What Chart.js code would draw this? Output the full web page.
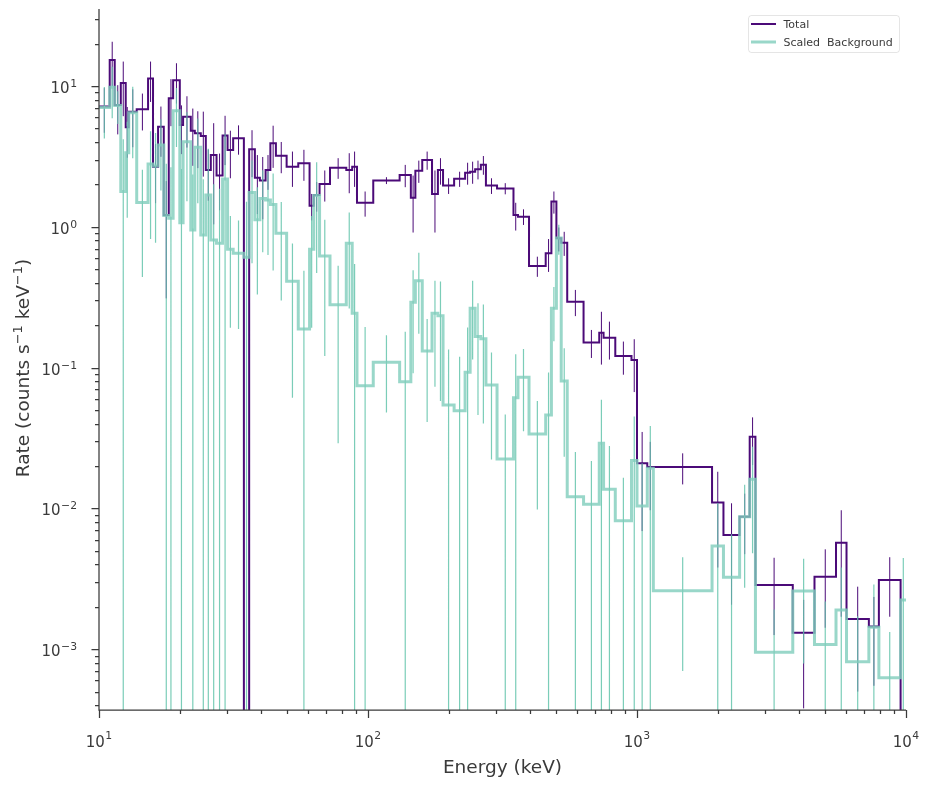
<!DOCTYPE html>
<html>
<head>
<meta charset="utf-8">
<title>Spectrum</title>
<script src="https://cdn.jsdelivr.net/npm/chart.js@4"></script>
<style>
  html, body { margin: 0; padding: 0; background: #fff; }
  #wrap { width: 930px; height: 786px; }
</style>
</head>
<body>
<div id="wrap"><canvas id="spec" width="930" height="786"></canvas></div>
<script>
// bin edges in keV (84 edges -> 83 bins)
const binEdges = [10, 10.96, 11.44, 12.05, 12.57, 12.90, 13.81, 15.22, 15.88, 16.58,
  17.41, 18.17, 18.86, 19.97, 20.54, 21.94, 22.71, 23.90, 24.95, 26.04,
  27.35, 28.80, 30.06, 31.53, 34.56, 36.16, 37.97, 39.63, 41.62, 43.36,
  45.46, 49.83, 55.05, 60.64, 62.86, 66.06, 72.23, 83.04, 87.35, 91.00,
  104.6, 131.1, 144.3, 150.0, 159.1, 173.0, 181.9, 190.1, 209.0, 229.6,
  239.7, 250.2, 262.7, 274.4, 301.8, 347.4, 361.0, 396.8, 457.7, 480.6,
  501.6, 522.7, 550.3, 632.9, 723.9, 751.1, 830.4, 953.9, 1000, 1092,
  1150, 1901, 2096, 2407, 2624, 2756, 3794, 4569, 5493, 6010,
  7277, 7928, 9548, 10000];

// total rate, counts/s/keV (0 = empty / negative bin)
const totalRate = [7.15, 15.3, 7.33, 10.5, 5.09, 6.57, 6.83, 11.3, 2.67, 5.14,
  1.21, 8.18, 11.0, 5.28, 6.05, 4.81, 4.61, 4.42, 2.53, 3.24,
  2.31, 4.44, 3.51, 4.25, 0, 3.55, 2.23, 2.13, 2.53, 3.92,
  3.20, 2.67, 2.82, 1.41, 1.68, 2.01, 2.63, 2.53, 2.67, 1.48,
  2.13, 2.33, 1.61, 2.50, 2.98, 1.71, 2.53, 1.96, 2.19, 2.42,
  2.46, 2.56, 2.76, 1.96, 1.87, 1.21, 1.18, 0.527, 0.648, 1.51,
  0.828, 0.771, 0.294, 0.151, 0.177, 0.163, 0.121, 0.113, 0.0209, 0.0197,
  0.0197, 0.0110, 0.00647, 0.00873, 0.0323, 0.00286, 0.00131, 0.00327, 0.00570, 0.00164,
  0.00145, 0.00310, 0];

const totalErr = [2.5, 5.3, 2.8, 4.4, 2.0, 2.9, 2.0, 3.6, 1.2, 2.0,
  0.9, 3.0, 3.5, 2.0, 2.4, 2.1, 2.0, 2.15, 1.0, 2.2,
  1.0, 1.7, 1.3, 1.0, 0, 1.3, 1.0, 1.0, 0.7, 1.3,
  0.8, 0.75, 0.7, 0.3, 0.4, 0.5, 0.44, 0.8, 0.75, 0.3,
  0.12, 0.42, 0.7, 0.45, 0.44, 0.8, 0.54, 0.25, 0.27, 0.43,
  0.44, 0.39, 0.42, 0.25, 0.17, 0.27, 0.15, 0.086, 0.17, 0.27,
  0.16, 0.15, 0.062, 0.034, 0.072, 0.049, 0.032, 0.046, 0.014, 0.01,
  0.0049, 0.0072, 0.0044, 0.004, 0.012, 0.0016, 0.00093, 0.00185, 0.004, 0.00114,
  0.0009, 0.0014, 0];

// scaled background rate
const bkgRate = [7.04, 9.79, 7.27, 1.78, 3.36, 6.46, 1.49, 2.79, 2.70, 3.81,
  1.20, 1.15, 6.68, 1.07, 4.02, 0.949, 3.67, 0.875, 1.68, 0.806,
  0.763, 2.18, 0.692, 0.648, 0.607, 1.75, 1.12, 1.59, 1.55, 1.44,
  0.899, 0.411, 0.188, 0.692, 1.67, 0.621, 0.279, 0.763, 0.243, 0.0744,
  0.109, 0.0794, 0.291, 0.414, 0.131, 0.243, 0.233, 0.0543, 0.0494, 0.0926,
  0.264, 0.166, 0.160, 0.0752, 0.0224, 0.0611, 0.0853, 0.0338, 0.0461, 0.264,
  0.833, 0.0803, 0.0121, 0.0107, 0.0290, 0.0137, 0.00818, 0.0219, 0.0104, 0.0193,
  0.00260, 0.00541, 0.00324, 0.00873, 0.0161, 0.000951, 0.00259, 0.00108, 0.00190, 0.000815,
  0.00143, 0.000627, 0.00224];

const bkgErr = [2.8, 3.9, 1.9, 2.4, 2.2, 3.4, 1.05, 1.97, 1.93, 2.0,
  1.6, 1.5, 3.0, 1.5, 2.5, 1.4, 2.2, 1.3, 1.9, 1.2,
  1.1, 2.4, 0.5, 0.46, 0.9, 1.2, 0.79, 0.93, 0.92, 0.95,
  0.6, 0.35, 0.3, 0.5, 1.2, 0.5, 0.25, 0.5, 0.3, 0.12,
  0.061, 0.1, 0.2, 0.24, 0.09, 0.17, 0.175, 0.08, 0.07, 0.1,
  0.15, 0.12, 0.12, 0.053, 0.024, 0.063, 0.05, 0.024, 0.046, 0.11,
  0.2, 0.057, 0.013, 0.011, 0.030, 0.014, 0.0083, 0.023, 0.0105, 0.0192,
  0.0019, 0.0055, 0.0033, 0.006, 0.0113, 0.00096, 0.0018, 0.0011, 0.0019, 0.0009,
  0.00145, 0.0007, 0.0022];

// axis limits and tick labels (exponents of ten)
const xLimits = [10, 10000];
const yLimits = [3.7e-4, 35.2];
const xTickExps = [1, 2, 3, 4];
const yTickExps = [-3, -2, -1, 0, 1];

const seriesNames = ['Total', 'Scaled  Background'];
const purple = '#4b0a78';
const teal = 'rgba(127, 205, 187, 0.8)';
const tealBar = 'rgba(100, 196, 172, 0.85)';
const textColor = '#3a3a3a';
const font = '"DejaVu Sans", sans-serif';

const floorRate = 1e-7; // well below the axis, so the line is clipped at the bottom

function stepLine(rates) {
  const pts = [];
  rates.forEach((r, i) => {
    const y = r > 0 ? r : floorRate;
    pts.push({ x: binEdges[i], y: y }, { x: binEdges[i + 1], y: y });
  });
  return pts;
}

function errorBars(rates, errs) {
  const pts = [];
  rates.forEach((r, i) => {
    if (!errs[i]) return;
    const mid = Math.sqrt(binEdges[i] * binEdges[i + 1]);
    const lo = r - errs[i];
    pts.push({ x: mid, y: lo > 0 ? lo : floorRate });
    pts.push({ x: mid, y: r + errs[i] });
    pts.push({ x: mid, y: null });
  });
  return pts;
}

function minus(n) {
  return String(n).replace('-', '\u2212');
}

// "10" with a raised exponent; align is 'center' or 'right'
function drawPower(ctx, exp, x, y, supDy, align) {
  const base = '10';
  const sup = minus(exp);
  ctx.font = '15px ' + font;
  const w1 = ctx.measureText(base).width;
  ctx.font = '10.8px ' + font;
  const w2 = ctx.measureText(sup).width;
  const total = w1 + 0.5 + w2;
  const x0 = align === 'center' ? x - total / 2 : x - total;
  ctx.font = '15px ' + font;
  ctx.fillText(base, x0, y);
  ctx.font = '10.8px ' + font;
  ctx.fillText(sup, x0 + w1 + 0.5, y - supDy);
}

const axesPlugin = {
  id: 'axes',
  afterDraw(chart) {
    const { ctx, chartArea: a, scales: { x, y } } = chart;
    ctx.save();
    ctx.strokeStyle = textColor;
    ctx.fillStyle = textColor;
    ctx.lineWidth = 1.25;

    // spines, left and bottom only
    ctx.beginPath();
    ctx.moveTo(a.left, a.top);
    ctx.lineTo(a.left, a.bottom);
    ctx.lineTo(a.right, a.bottom);
    ctx.stroke();

    // log ticks
    ctx.beginPath();
    for (let d = 1; d <= 4; d++) {
      for (let k = 1; k <= 9; k++) {
        const v = k * Math.pow(10, d);
        if (v < xLimits[0] || v > xLimits[1]) continue;
        const px = Math.round(x.getPixelForValue(v)) + 0.5;
        ctx.moveTo(px, a.bottom);
        ctx.lineTo(px, a.bottom + (k === 1 ? 8 : 4));
      }
    }
    for (let d = -4; d <= 1; d++) {
      for (let k = 1; k <= 9; k++) {
        const v = k * Math.pow(10, d);
        if (v < yLimits[0] || v > yLimits[1]) continue;
        const py = Math.round(y.getPixelForValue(v)) + 0.5;
        ctx.moveTo(a.left, py);
        ctx.lineTo(a.left - (k === 1 ? 7.5 : 4), py);
      }
    }
    ctx.stroke();

    // tick labels
    ctx.textBaseline = 'alphabetic';
    ctx.textAlign = 'left';
    xTickExps.forEach(e => {
      drawPower(ctx, e, x.getPixelForValue(Math.pow(10, e)), 746.5, 7.5, 'center');
    });
    yTickExps.forEach(e => {
      const py = y.getPixelForValue(Math.pow(10, e));
      drawPower(ctx, e, 77, py + 7, 6, 'right');
    });

    // x title
    ctx.font = '18.5px ' + font;
    ctx.textAlign = 'center';
    ctx.fillText('Energy (keV)', (a.left + a.right) / 2, 773);

    // y title, rotated, with superscripts
    const parts = [['Rate (counts s', 18.5, 0], ['\u22121', 13, 7.5], [' keV', 18.5, 0], ['\u22121', 13, 7.5], [')', 18.5, 0]];
    ctx.textAlign = 'left';
    let total = 0;
    parts.forEach(p => { ctx.font = p[1] + 'px ' + font; total += ctx.measureText(p[0]).width; });
    ctx.save();
    ctx.translate(29, 368);
    ctx.rotate(-Math.PI / 2);
    let cx = -total / 2;
    parts.forEach(p => {
      ctx.font = p[1] + 'px ' + font;
      ctx.fillText(p[0], cx, -p[2]);
      cx += ctx.measureText(p[0]).width;
    });
    ctx.restore();

    // legend box, top right
    ctx.fillStyle = 'rgba(255,255,255,0.85)';
    ctx.strokeStyle = 'rgba(0,0,0,0.1)';
    ctx.lineWidth = 1;
    ctx.beginPath();
    ctx.roundRect(748.5, 15.5, 151, 37, 3);
    ctx.fill();
    ctx.stroke();
    const entries = [[purple, 2, 24], [teal, 3, 42]];
    ctx.font = '11px ' + font;
    entries.forEach((en, i) => {
      ctx.strokeStyle = en[0];
      ctx.lineWidth = en[1];
      ctx.beginPath();
      ctx.moveTo(751, en[2]);
      ctx.lineTo(776, en[2]);
      ctx.stroke();
      ctx.fillStyle = textColor;
      ctx.fillText(seriesNames[i], 783.5, en[2] + 4);
    });
    ctx.restore();
  }
};

const common = { showLine: true, pointRadius: 0, fill: false, tension: 0, clip: 0,
  borderCapStyle: 'butt', borderJoinStyle: 'miter' };

new Chart(document.getElementById('spec'), {
  type: 'scatter',
  data: {
    datasets: [
      Object.assign({ label: seriesNames[1], data: stepLine(bkgRate), borderColor: teal, borderWidth: 3 }, common),
      Object.assign({ label: 'bkg err', data: errorBars(bkgRate, bkgErr), borderColor: tealBar, borderWidth: 1.2 }, common),
      Object.assign({ label: seriesNames[0], data: stepLine(totalRate), borderColor: purple, borderWidth: 2 }, common),
      Object.assign({ label: 'total err', data: errorBars(totalRate, totalErr), borderColor: purple, borderWidth: 1 }, common)
    ]
  },
  options: {
    responsive: false,
    animation: false,
    events: [],
    layout: { padding: { left: 99, top: 9, right: 24, bottom: 76 } },
    plugins: { legend: { display: false }, tooltip: { enabled: false } },
    scales: {
      x: { type: 'logarithmic', min: xLimits[0], max: xLimits[1], bounds: 'data', display: false },
      y: { type: 'logarithmic', min: yLimits[0], max: yLimits[1], bounds: 'data', display: false }
    }
  },
  plugins: [axesPlugin]
});
</script>
</body>
</html>
